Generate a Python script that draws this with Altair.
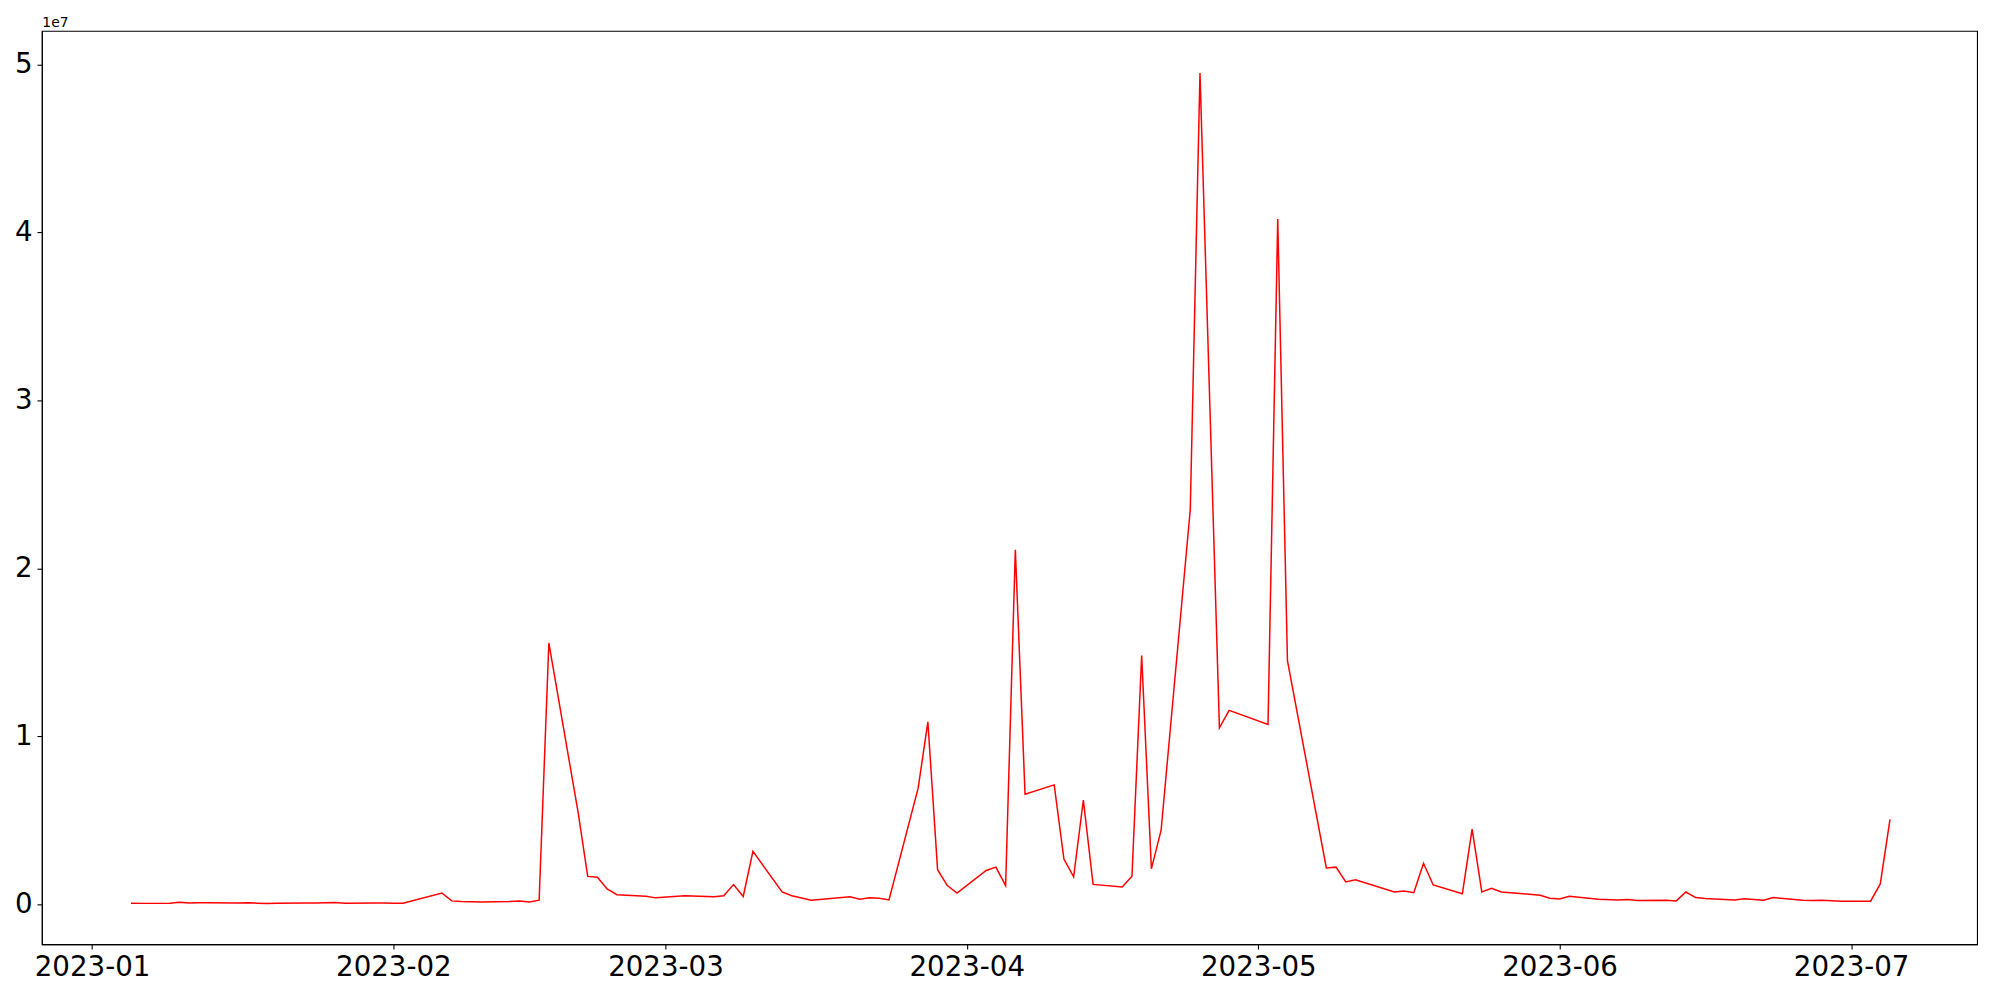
import altair as alt
import pandas as pd

dates = [
    "2023-01-05", "2023-01-06", "2023-01-09", "2023-01-10", "2023-01-11", "2023-01-12", "2023-01-13",
    "2023-01-16", "2023-01-17", "2023-01-18", "2023-01-19", "2023-01-20", "2023-01-23", "2023-01-24",
    "2023-01-25", "2023-01-26", "2023-01-27", "2023-01-30", "2023-01-31", "2023-02-01", "2023-02-02",
    "2023-02-06", "2023-02-07", "2023-02-08", "2023-02-09", "2023-02-10", "2023-02-13", "2023-02-14",
    "2023-02-15", "2023-02-16", "2023-02-17", "2023-02-20", "2023-02-21", "2023-02-22", "2023-02-23",
    "2023-02-24", "2023-02-27", "2023-02-28", "2023-03-03", "2023-03-06", "2023-03-07", "2023-03-08",
    "2023-03-09", "2023-03-10", "2023-03-13", "2023-03-14", "2023-03-16", "2023-03-20", "2023-03-21",
    "2023-03-22", "2023-03-23", "2023-03-24", "2023-03-27", "2023-03-28", "2023-03-29", "2023-03-30",
    "2023-03-31", "2023-04-03", "2023-04-04", "2023-04-05", "2023-04-06", "2023-04-07", "2023-04-10",
    "2023-04-11", "2023-04-12", "2023-04-13", "2023-04-14", "2023-04-17", "2023-04-18", "2023-04-19",
    "2023-04-20", "2023-04-21", "2023-04-24", "2023-04-25", "2023-04-27", "2023-04-28", "2023-05-02",
    "2023-05-03", "2023-05-04", "2023-05-08", "2023-05-09", "2023-05-10", "2023-05-11", "2023-05-15",
    "2023-05-16", "2023-05-17", "2023-05-18", "2023-05-19", "2023-05-22", "2023-05-23", "2023-05-24",
    "2023-05-25", "2023-05-26", "2023-05-30", "2023-05-31", "2023-06-01", "2023-06-02", "2023-06-05",
    "2023-06-07", "2023-06-08", "2023-06-09", "2023-06-12", "2023-06-13", "2023-06-14", "2023-06-15",
    "2023-06-16", "2023-06-19", "2023-06-20", "2023-06-22", "2023-06-23", "2023-06-26", "2023-06-27",
    "2023-06-28", "2023-06-30", "2023-07-03", "2023-07-04", "2023-07-05",
]

values = [
    45000, 42000, 48000, 110000, 65000, 80000, 72000,
    60000, 80000, 55000, 35000, 45000, 58000, 66000,
    78000, 95000, 50000, 62000, 58000, 55000, 50000,
    660000, 190000, 150000, 140000, 130000, 160000, 190000,
    130000, 230000, 15550000, 5500000, 1650000, 1600000, 900000,
    560000, 470000, 370000, 490000, 430000, 500000, 1160000,
    450000, 3140000, 720000, 500000, 230000, 430000, 290000,
    370000, 350000, 250000, 6900000, 10850000, 2050000, 1100000,
    660000, 2000000, 2200000, 1100000, 21100000, 6540000, 7100000,
    2680000, 1620000, 6200000, 1170000, 1020000, 1660000, 14800000,
    2100000, 4400000, 23500000, 49500000, 10500000, 11540000, 10700000,
    40800000, 14500000, 2150000, 2200000, 1320000, 1450000, 720000,
    780000, 680000, 2430000, 1140000, 620000, 4460000, 720000,
    940000, 720000, 530000, 350000, 310000, 470000, 290000,
    250000, 270000, 210000, 230000, 190000, 720000, 390000,
    330000, 250000, 310000, 230000, 390000, 230000, 210000,
    230000, 170000, 170000, 1200000, 5050000,
]

y_ticks = [0, 10000000, 20000000, 30000000, 40000000, 50000000]
x_tick_months = [1, 2, 3, 4, 5, 6, 7]

df = pd.DataFrame({"date": dates, "value": values})

FONT = "DejaVu Sans"

x_domain = [
    alt.DateTime(year=2022, month=12, date=26, hours=20, utc=True),
    alt.DateTime(year=2023, month=7, date=13, hours=23, utc=True),
]
x_values = [alt.DateTime(year=2023, month=m, date=1, utc=True) for m in x_tick_months]

chart = (
    alt.Chart(df)
    .mark_line(color="#ff0000", strokeWidth=1.5)
    .encode(
        x=alt.X(
            "date:T",
            scale=alt.Scale(type="utc", domain=x_domain),
            axis=alt.Axis(
                values=x_values,
                labelExpr="utcFormat(datum.value, '%Y-%m')",
                title=None,
                grid=False,
                labelAngle=0,
                labelFlush=False,
                labelOverlap=False,
            ),
        ),
        y=alt.Y(
            "value:Q",
            scale=alt.Scale(domain=[-2390000, 52005000], nice=False, zero=False),
            axis=alt.Axis(
                values=y_ticks,
                labelExpr="format(datum.value / 1e7, 'd')",
                title="1e7",
                titleAngle=0,
                titleX=0,
                titleY=-4,
                titleAlign="left",
                titleBaseline="alphabetic",
                titleFontSize=13.9,
                titleFontWeight="normal",
                titleFont=FONT,
                titleColor="black",
                grid=False,
            ),
        ),
    )
    .properties(
        width=1943,
        height=917,
        padding={"left": 34, "top": 21, "right": 15, "bottom": 45},
        autosize=alt.AutoSizeParams(type="none"),
        background="white",
    )
    .configure_view(stroke="black", strokeWidth=1.1)
    .configure_axis(
        domainColor="black",
        domainWidth=1.1,
        tickColor="black",
        tickWidth=1.1,
        tickSize=4.9,
        labelPadding=4.9,
        labelFont=FONT,
        labelFontSize=27.8,
        labelColor="black",
    )
)

chart.save("out.html", embed_options={"renderer": "svg", "actions": False})
